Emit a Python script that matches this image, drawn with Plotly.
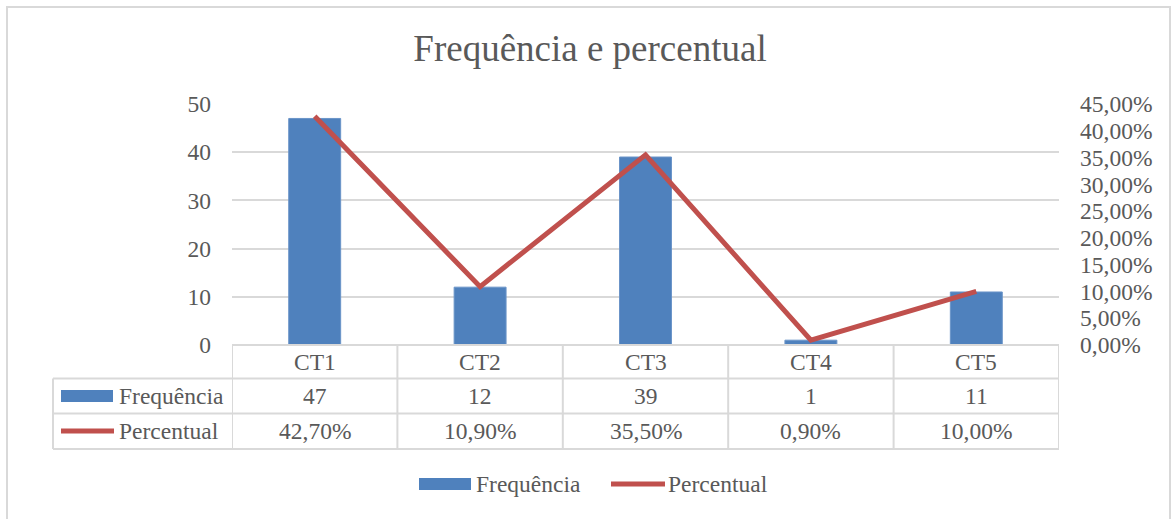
import plotly.graph_objects as go

categories = ["CT1", "CT2", "CT3", "CT4", "CT5"]
frequencia = [47, 12, 39, 1, 11]
percentual = [0.427, 0.109, 0.355, 0.009, 0.100]
freq_labels = ["47", "12", "39", "1", "11"]
perc_labels = ["42,70%", "10,90%", "35,50%", "0,90%", "10,00%"]
series_names = ["Frequência", "Percentual"]
title_text = "Frequência e percentual"

W, H = 1171, 519
L, R, T, B = 232, 112, 104, 174
PW, PH = W - L - R, H - T - B

BLUE = "#4F81BD"
RED = "#C0504D"
TXT = "#595959"
GRID = "#D9D9D9"
FONT = "Liberation Serif"
FS = 23.5


def px_x(x):
    return (x - L) / PW


def px_y(y):
    return (H - B - y) / PH


fig = go.Figure()
fig.add_trace(go.Bar(x=categories, y=frequencia, name=series_names[0],
                     marker=dict(color=BLUE, line=dict(color="#6A94C8", width=1)),
                     yaxis="y", showlegend=False))
fig.add_trace(go.Scatter(x=categories, y=percentual, name=series_names[1],
                         mode="lines", line=dict(color=RED, width=5),
                         yaxis="y2", showlegend=False))

shapes = []
annotations = []
lc = dict(color=GRID, width=2)
tfont = dict(family=FONT, size=FS, color=TXT)

# table rows (pixel positions of row boundaries)
row_top = H - B
row1 = 378.5
row2 = 413.5
row3 = 449
left_col = 53

# horizontal lines
shapes.append(dict(type="line", xref="paper", yref="paper", x0=0, x1=1,
                   y0=px_y(row_top), y1=px_y(row_top), line=lc, layer="above"))
for yy in (row1, row2, row3):
    shapes.append(dict(type="line", xref="paper", yref="paper", x0=px_x(left_col), x1=1,
                       y0=px_y(yy), y1=px_y(yy), line=lc))
# vertical lines
for i in range(len(categories) + 1):
    shapes.append(dict(type="line", xref="x", yref="paper", x0=i - 0.5, x1=i - 0.5,
                       y0=px_y(row_top), y1=px_y(row3), line=lc))
shapes.append(dict(type="line", xref="paper", yref="paper", x0=px_x(left_col), x1=px_x(left_col),
                   y0=px_y(row1), y1=px_y(row3), line=lc))

# table text
for i, c in enumerate(categories):
    annotations.append(dict(x=i, y=px_y((row_top + row1) / 2), xref="x", yref="paper",
                            xanchor="center", yanchor="middle",
                            text=c, showarrow=False, font=tfont))
    annotations.append(dict(x=i, y=px_y((row1 + row2) / 2), xref="x", yref="paper",
                            xanchor="center", yanchor="middle",
                            text=freq_labels[i], showarrow=False, font=tfont))
    annotations.append(dict(x=i, y=px_y((row2 + row3) / 2), xref="x", yref="paper",
                            xanchor="center", yanchor="middle",
                            text=perc_labels[i], showarrow=False, font=tfont))

# table legend keys
shapes.append(dict(type="rect", xref="paper", yref="paper", x0=px_x(61), x1=px_x(113),
                   y0=px_y(390), y1=px_y(402), fillcolor=BLUE, line=dict(width=0)))
shapes.append(dict(type="line", xref="paper", yref="paper", x0=px_x(61), x1=px_x(114),
                   y0=px_y(431), y1=px_y(431), line=dict(color=RED, width=5)))
annotations.append(dict(x=px_x(117), y=px_y((row1 + row2) / 2), xref="paper", yref="paper",
                        xanchor="left", yanchor="middle", text=series_names[0], showarrow=False,
                        font=tfont))
annotations.append(dict(x=px_x(117), y=px_y((row2 + row3) / 2), xref="paper", yref="paper",
                        xanchor="left", yanchor="middle", text=series_names[1], showarrow=False,
                        font=tfont))

# bottom legend
shapes.append(dict(type="rect", xref="paper", yref="paper", x0=px_x(419), x1=px_x(471),
                   y0=px_y(478), y1=px_y(490), fillcolor=BLUE, line=dict(width=0)))
shapes.append(dict(type="line", xref="paper", yref="paper", x0=px_x(611), x1=px_x(665),
                   y0=px_y(484), y1=px_y(484), line=dict(color=RED, width=5)))
annotations.append(dict(x=px_x(474), y=px_y(484), xref="paper", yref="paper", xanchor="left",
                        yanchor="middle", text=series_names[0], showarrow=False, font=tfont))
annotations.append(dict(x=px_x(666), y=px_y(484), xref="paper", yref="paper", xanchor="left",
                        yanchor="middle", text=series_names[1], showarrow=False, font=tfont))

# chart border
shapes.append(dict(type="rect", xref="paper", yref="paper", x0=px_x(7), x1=px_x(1170),
                   y0=px_y(540), y1=px_y(7), line=dict(color=GRID, width=2), fillcolor="rgba(0,0,0,0)"))

fig.update_layout(
    width=W, height=H,
    margin=dict(l=L, r=R, t=T, b=B),
    paper_bgcolor="white", plot_bgcolor="white",
    separators=",.",
    bargap=0.686,
    title=dict(text=title_text, x=(413 + 767) / 2 / W, xanchor="center",
               y=1 - 48 / H, yanchor="middle", yref="container",
               font=dict(family=FONT, size=37, color=TXT)),
    xaxis=dict(type="category", range=[-0.5, 4.5], showticklabels=False, showgrid=False,
               zeroline=False, showline=False, ticks=""),
    yaxis=dict(range=[0, 50], dtick=10, showgrid=True, gridcolor=GRID, gridwidth=2,
               zeroline=False, showline=False, ticks="", ticklabelstandoff=20,
               tickfont=tfont),
    yaxis2=dict(range=[0, 0.45], dtick=0.05, tickformat=".2%", overlaying="y", side="right",
                showgrid=False, zeroline=False, showline=False, ticks="", ticklabelstandoff=20,
                tickfont=tfont),
    shapes=shapes,
    annotations=annotations,
    showlegend=False,
)

fig.write_html("out.html", config={"displayModeBar": False},
               post_script="document.body.style.margin='0';")
